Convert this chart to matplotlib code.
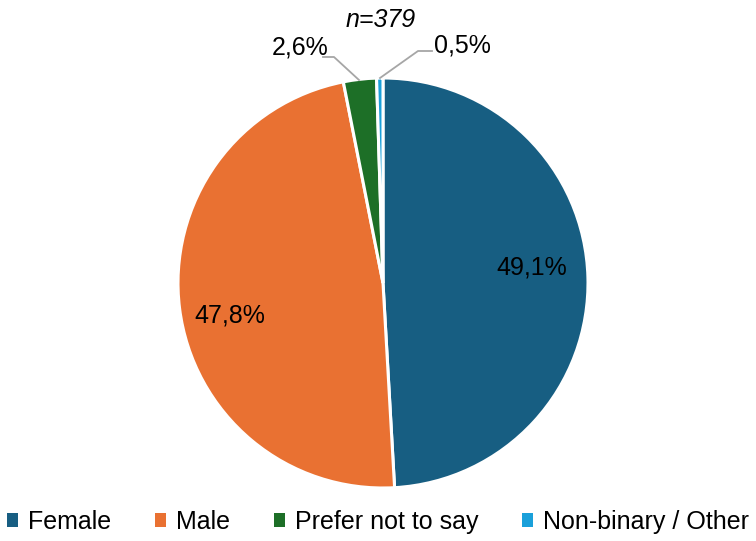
import matplotlib
matplotlib.use("Agg")
import matplotlib.pyplot as plt
from matplotlib.patches import Patch

plt.rcParams['font.family'] = ['Liberation Sans', 'DejaVu Sans']

categories = ["Female", "Male", "Prefer not to say", "Non-binary / Other"]
values = [49.1, 47.8, 2.6, 0.5]
labels = ["49,1%", "47,8%", "2,6%", "0,5%"]
colors = ["#175E82", "#E97132", "#1D6F27", "#1AA0DA"]
note = "n=379"

W, H = 756, 541
fig = plt.figure(figsize=(W / 100, H / 100), dpi=100)
cx, cy, r = 383, 283, 205
ax = fig.add_axes([(cx - r) / W, (H - cy - r) / H, 2 * r / W, 2 * r / H])
wedges, _ = ax.pie(values, colors=colors, startangle=90, counterclock=False,
                   radius=1, wedgeprops=dict(edgecolor="white", linewidth=2.2))
ax.set_xlim(-1, 1)
ax.set_ylim(-1, 1)
ax.set_aspect("equal")
ax.axis("off")

fs = 18

def px(x, y):
    return ((x - cx) / r, (cy - y) / r)

ax.text(*px(532, 268), labels[0], ha="center", va="center", fontsize=fs, color="black")
ax.text(*px(230, 316), labels[1], ha="center", va="center", fontsize=fs, color="black")
ax.text(*px(300, 47), labels[2], ha="center", va="center", fontsize=fs, color="black", clip_on=False)
ax.text(*px(462, 45), labels[3], ha="center", va="center", fontsize=fs, color="black", clip_on=False)
ax.text(*px(381, 20), note, ha="center", va="center", fontsize=fs, style="italic", color="black", clip_on=False)

for pts in ([(323, 57), (334, 57), (359, 80)], [(432, 51), (418, 51), (380, 78)]):
    xs, ys = zip(*[px(*p) for p in pts])
    ax.plot(xs, ys, color="#A6A6A6", linewidth=1.3, clip_on=False)

handles = [Patch(facecolor=c, edgecolor="none") for c in colors]
fig.legend(handles, categories, loc="center", bbox_to_anchor=(0.5, 1 - 522 / H), ncol=4,
           frameon=False, fontsize=fs, handlelength=0.45, handleheight=0.45,
           handletextpad=0.4, columnspacing=1.75, borderaxespad=0)

fig.savefig("out.png", dpi=100)
